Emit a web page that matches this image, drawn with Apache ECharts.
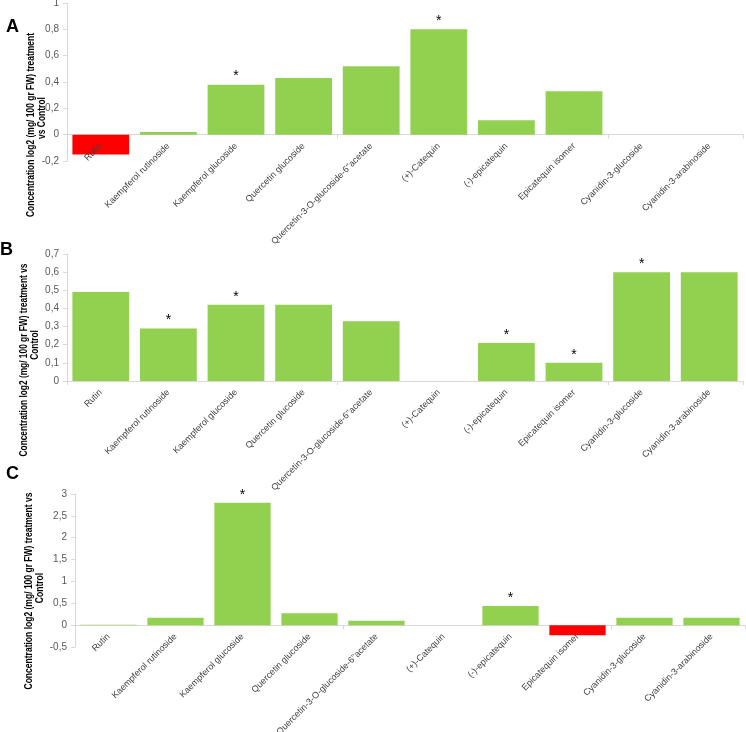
<!DOCTYPE html>
<html>
<head>
<meta charset="utf-8">
<script src="https://cdn.jsdelivr.net/npm/echarts@6/dist/echarts.min.js"></script>
<style>html,body{margin:0;padding:0;background:#fff}#c{width:746px;height:732px}</style>
</head>
<body>
<div id="c"></div>
<script>
const categories = ["Rutin", "Kaempferol rutinoside", "Kaempferol glucoside", "Quercetin glucoside",
  "Quercetin-3-O-glucoside-6''acetate", "(+)-Catequin", "(-)-epicatequin", "Epicatequin isomer",
  "Cyanidin-3-glucoside", "Cyanidin-3-arabinoside"];
const valuesA = [-0.15, 0.02, 0.38, 0.43, 0.52, 0.80, 0.11, 0.33, 0, 0];
const sigA = [0, 0, 1, 0, 0, 1, 0, 0, 0, 0];
const valuesB = [0.49, 0.29, 0.42, 0.42, 0.33, 0, 0.21, 0.10, 0.60, 0.60];
const sigB = [0, 1, 1, 0, 0, 0, 1, 1, 1, 0];
const valuesC = [0.01, 0.17, 2.8, 0.27, 0.10, 0, 0.44, -0.23, 0.17, 0.17];
const sigC = [0, 0, 1, 0, 0, 0, 1, 0, 0, 0];
const yTicksA = { min: -0.2, max: 1, interval: 0.2 };
const yTicksB = { min: 0, max: 0.7, interval: 0.1 };
const yTicksC = { min: -0.5, max: 3, interval: 0.5 };
const panelLetters = ["A", "B", "C"];
const yTitleLines = [
  ["Concentration log2 (mg/ 100 gr FW) treatment", "vs Control"],
  ["Concentration log2 (mg/ 100 gr FW) treatment vs", "Control"],
  ["Concentration log2 (mg/ 100 gr FW) treatment vs", "Control"]
];

const GREEN = '#92d050', RED = '#ff0000', AXIS = '#d9d9d9';
const catFont = "'Liberation Sans', sans-serif";

const grids = [
  { left: 67, top: 3, width: 676, height: 158, outerBoundsMode: 'none', containLabel: false },
  { left: 67, top: 254, width: 676, height: 127, outerBoundsMode: 'none', containLabel: false },
  { left: 75, top: 494, width: 670, height: 153, outerBoundsMode: 'none', containLabel: false }
];
const ticks = [yTicksA, yTicksB, yTicksC];
const vals = [valuesA, valuesB, valuesC];
const sigs = [sigA, sigB, sigC];

// axis carrying the line and ticks at y = 0
function xAxisLine(i) {
  return {
    type: 'category', gridIndex: i, data: categories,
    axisLine: { onZero: true, lineStyle: { color: AXIS, width: 1 } },
    axisTick: { show: true, length: 4, lineStyle: { color: AXIS } },
    axisLabel: { show: false }
  };
}
// axis carrying the category labels, lifted from the grid bottom up to y = 0, drawn above the bars
function xAxisLabels(i) {
  const t = ticks[i];
  const zeroFromBottom = grids[i].height * (0 - t.min) / (t.max - t.min);
  return {
    type: 'category', gridIndex: i, data: categories, position: 'bottom',
    offset: -zeroFromBottom, z: 10,
    axisLine: { show: false, onZero: false },
    axisTick: { show: false },
    axisLabel: { interval: 0, rotate: 45, fontSize: 9, color: '#404040', margin: 10, fontFamily: catFont }
  };
}
function yAxis(i) {
  return {
    type: 'value', gridIndex: i, min: ticks[i].min, max: ticks[i].max, interval: ticks[i].interval,
    splitLine: { show: false },
    axisLine: { show: true, lineStyle: { color: AXIS } },
    axisTick: { show: true, length: 4, lineStyle: { color: AXIS } },
    axisLabel: { fontSize: 10, color: '#595959', margin: 8, fontFamily: "'Liberation Sans', sans-serif",
      formatter: v => String(Math.round(v * 10) / 10).replace('.', ',') }
  };
}
function series(i) {
  return {
    type: 'bar', xAxisIndex: i, yAxisIndex: i, barCategoryGap: '16%',
    data: vals[i].map((v, k) => ({
      value: v,
      itemStyle: { color: v < 0 ? RED : GREEN },
      label: { show: sigs[i][k] === 1, position: 'top', formatter: '*', fontSize: 14, color: '#000', distance: 1 }
    })),
    animation: false
  };
}

// title layout: [line1 centre x, line1 centre y, line1 length, line2 centre x, line2 centre y]
const titleLayout = [[31, 125, 184, 42, 118], [24, 360, 193, 35, 345], [29, 591, 197, 40, 588]];
const letterPos = [[6, 18], [0, 241], [6, 465]];
const titleFont = "bold 10px 'Liberation Sans', sans-serif";
const mctx = document.createElement('canvas').getContext('2d');
mctx.font = titleFont;
const graphic = [];
for (let i = 0; i < 3; i++) {
  const L = titleLayout[i];
  const sc = L[2] / mctx.measureText(yTitleLines[i][0]).width;
  graphic.push({
    type: 'text', x: L[0], y: L[1], rotation: Math.PI / 2, scaleX: sc,
    style: { text: yTitleLines[i][0], fill: '#000', align: 'center', verticalAlign: 'middle', font: titleFont }
  });
  graphic.push({
    type: 'text', x: L[3], y: L[4], rotation: Math.PI / 2, scaleX: sc,
    style: { text: yTitleLines[i][1], fill: '#000', align: 'center', verticalAlign: 'middle', font: titleFont }
  });
  graphic.push({
    type: 'text', x: letterPos[i][0], y: letterPos[i][1],
    style: { text: panelLetters[i], fill: '#000', font: "bold 18px 'Liberation Sans', sans-serif" }
  });
}

const chart = echarts.init(document.getElementById('c'));
chart.setOption({
  animation: false,
  grid: grids,
  xAxis: [0, 1, 2].map(xAxisLine).concat([0, 1, 2].map(xAxisLabels)),
  yAxis: [0, 1, 2].map(yAxis),
  series: [0, 1, 2].map(series),
  graphic: graphic
});
</script>
</body>
</html>
